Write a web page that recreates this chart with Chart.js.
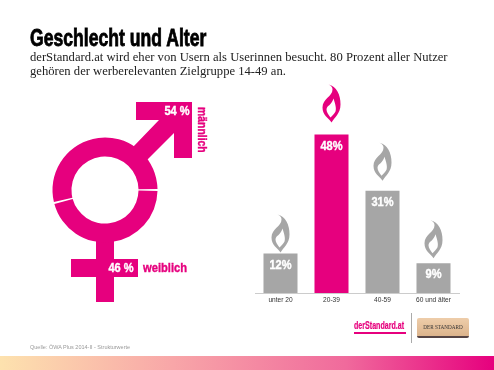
<!DOCTYPE html>
<html><head><meta charset="utf-8">
<script src="https://cdn.jsdelivr.net/npm/chart.js@4"></script>
<style>
html,body{margin:0;padding:0;background:#fff;width:494px;height:370px;overflow:hidden}
#wrap{position:relative;width:494px;height:370px}
canvas{position:absolute}
.t{position:absolute;white-space:nowrap}
#title{left:30px;top:25px;font:bold 23px "Liberation Sans";color:#000;transform:scaleX(.765);transform-origin:0 0;-webkit-text-stroke:.8px #000}
#sub{left:30px;top:51px;font:12.63px/13.5px "Liberation Serif";color:#222}
#src{left:30px;top:344px;font:5.5px "Liberation Sans";color:#999}
#footer{position:absolute;left:0;top:356px;width:494px;height:14px;background:linear-gradient(90deg,#fde2ae 0%,#f8a6a8 35%,#f06a9c 70%,#e6007e 100%)}
#logo{left:354px;top:320px;font:bold 10px/12px "Liberation Sans";color:#e6007e;transform:scaleX(.71);transform-origin:0 0;-webkit-text-stroke:.2px #e6007e}
#logoline{position:absolute;left:354px;top:332px;width:52px;height:2px;background:#e6007e}
#vr{position:absolute;left:411px;top:313px;width:1px;height:30px;background:#aaa}
#paper{left:417px;top:318px;width:52px;height:18px;background:linear-gradient(#eecdaa,#dcb48c);border-bottom:2px solid #544;border-radius:2px;font:5.2px/18px "Liberation Serif";color:#333;text-align:center}
</style></head><body><div id="wrap">
<canvas id="ring" width="494" height="370" style="left:0;top:0"></canvas>
<canvas id="bars" width="494" height="370" style="left:0;top:0"></canvas>
<div class="t" id="title">Geschlecht und Alter</div>
<div class="t" id="sub">derStandard.at wird eher von Usern als Userinnen besucht. 80 Prozent aller Nutzer<br>gehören der werberelevanten Zielgruppe 14-49 an.</div>
<div class="t" id="src">Quelle: ÖWA Plus 2014-II - Strukturwerte</div>
<div class="t" id="logo">derStandard.at</div><div id="logoline"></div><div id="vr"></div>
<div class="t" id="paper">DER STANDARD</div>
<div id="footer"></div>
</div>
<script>
const ageLabels = ['unter 20','20-39','40-59','60 und älter'];
const ageValues = [12,48,31,9];
const ageColors = ['#a6a6a6','#e6007e','#a6a6a6','#a6a6a6'];
const genderLabels = ['weiblich','männlich'];
const genderValues = [46,54];
const PINK='#e6007e';
Chart.defaults.animation=false;

function narrow(ctx,s,x,y,color,sx,align){
  ctx.save();ctx.translate(x,y);ctx.scale(sx,1);
  ctx.font='bold 13px "Liberation Sans"';ctx.textAlign=align||'center';ctx.textBaseline='middle';
  ctx.fillStyle=color;ctx.strokeStyle=color;ctx.lineWidth=.4;
  ctx.strokeText(s,0,0);ctx.fillText(s,0,0);ctx.restore();
}
function flame(ctx,cx,by,color){
  ctx.save();ctx.translate(cx,by);ctx.fillStyle=color;
  ctx.beginPath();
  ctx.moveTo(0,0);
  ctx.bezierCurveTo(-3,-5,-9,-7,-9,-15);
  ctx.bezierCurveTo(-9,-24,1,-26,1,-33);
  ctx.bezierCurveTo(1,-35,0,-37,-3,-38);
  ctx.bezierCurveTo(5,-36,9,-28,9,-18);
  ctx.bezierCurveTo(9,-9,3,-5,0,0);
  ctx.closePath();
  ctx.moveTo(-1,-5);
  ctx.bezierCurveTo(-3,-8,-5,-10,-5,-13);
  ctx.bezierCurveTo(-5,-17,0,-17,2,-24);
  ctx.bezierCurveTo(4,-18,5,-14,4,-11);
  ctx.bezierCurveTo(3,-9,1,-7,-1,-5);
  ctx.closePath();
  ctx.fill('evenodd');ctx.restore();
}
const flamePlugin={id:'flames',afterDatasetsDraw(c){
  const ctx=c.ctx,m=c.getDatasetMeta(0);
  const gaps=[1,12,10,5];
  m.data.forEach((b,i)=>{
    flame(ctx,b.x,b.y-gaps[i],ageColors[i]);
    narrow(ctx,ageValues[i]+'%',b.x,b.y+(i===0?12:11.5),'#fff',.85);
  });
}};
new Chart(document.getElementById('bars'),{
  type:'bar',
  data:{labels:ageLabels,datasets:[{data:ageValues,backgroundColor:ageColors,barPercentage:.667,categoryPercentage:1}]},
  plugins:[flamePlugin],
  options:{responsive:false,layout:{padding:{left:255,right:35,top:128,bottom:63}},
    plugins:{legend:{display:false},tooltip:{enabled:false}},
    scales:{
      y:{display:false,min:0,max:50},
      x:{grid:{display:false,drawTicks:false},border:{color:'#ccc',width:1},
         ticks:{color:'#333',font:{family:'Liberation Sans',size:6.6},padding:3,maxRotation:0,autoSkip:false}}
    }}
});
const symbolPlugin={id:'symbol',beforeDatasetsDraw(c){
  const ctx=c.ctx,a=c.getDatasetMeta(0).data[0];
  const x=a.x,y=a.y;
  ctx.save();ctx.fillStyle=PINK;
  ctx.fillRect(x-9,y+48,18,64);
  ctx.fillRect(x-34,y+69,67,18);
  ctx.beginPath();
  ctx.moveTo(x+28,y-43);ctx.lineTo(x+54,y-70);ctx.lineTo(x+31,y-70);ctx.lineTo(x+31,y-88);
  ctx.lineTo(x+87,y-88);ctx.lineTo(x+87,y-32);ctx.lineTo(x+69,y-32);ctx.lineTo(x+69,y-57);
  ctx.lineTo(x+42,y-30);ctx.closePath();ctx.fill();
  ctx.restore();
},afterDatasetsDraw(c){
  const ctx=c.ctx,a=c.getDatasetMeta(0).data[0];
  const x=a.x,y=a.y;
  narrow(ctx,genderValues[1]+' %',x+72,y-79,'#fff',.85);
  narrow(ctx,genderValues[0]+' %',x+16,y+78,'#fff',.85);
  narrow(ctx,genderLabels[0],x+38,y+78,PINK,.86,'left');
  ctx.save();ctx.translate(x+97,y-83);ctx.rotate(Math.PI/2);
  narrow(ctx,genderLabels[1],0,0,PINK,.8,'left');
  ctx.restore();
}};
new Chart(document.getElementById('ring'),{
  type:'doughnut',
  data:{labels:genderLabels,datasets:[{data:genderValues,backgroundColor:[PINK,PINK],borderWidth:0,spacing:1}]},
  plugins:[symbolPlugin],
  options:{responsive:false,rotation:90,cutout:'63.5%',radius:52,
    layout:{padding:{left:0,right:494-210,top:190-105,bottom:370-295}},
    plugins:{legend:{display:false},tooltip:{enabled:false}}}
});
</script></body></html>
